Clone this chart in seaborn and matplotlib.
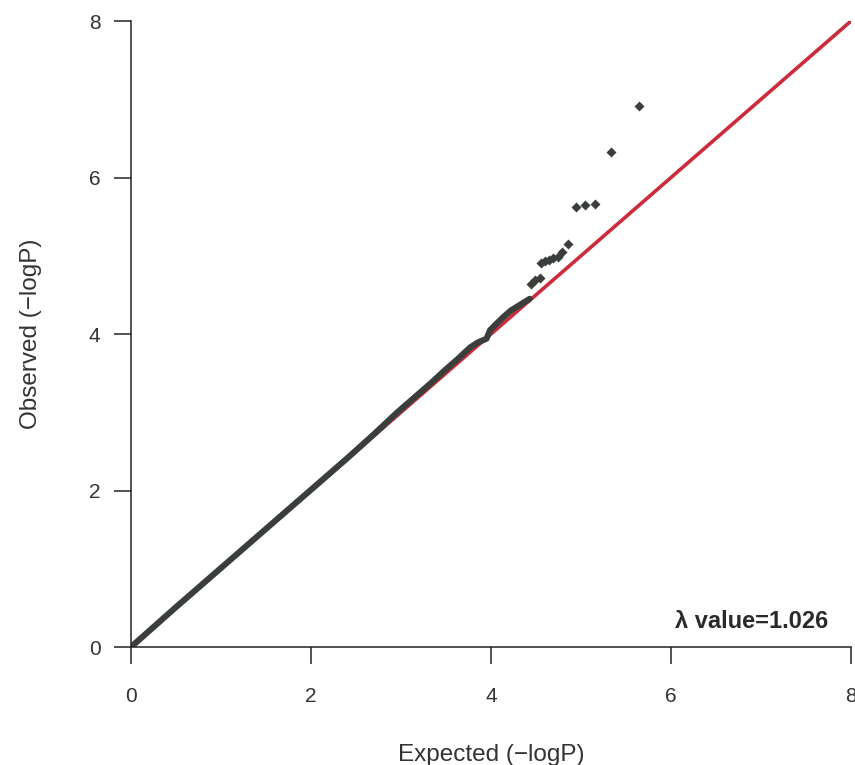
import matplotlib
matplotlib.use("Agg")
import matplotlib.pyplot as plt
import seaborn as sns
import pandas as pd

# QQ plot values (-log10 P)
dense_expected = [0.00, 0.50, 1.00, 1.50, 2.00, 2.40, 2.70, 2.95, 3.15, 3.32, 3.50, 3.62,
                  3.77, 3.85, 3.91, 3.95, 3.99, 4.05, 4.14, 4.22, 4.29, 4.36, 4.43]
dense_observed = [0.00, 0.51, 1.01, 1.51, 2.01, 2.41, 2.72, 2.99, 3.19, 3.36, 3.55, 3.67,
                  3.83, 3.89, 3.92, 3.94, 4.05, 4.12, 4.22, 4.30, 4.35, 4.40, 4.45]

tail_expected = [4.45, 4.49, 4.54, 4.56, 4.60, 4.64, 4.69, 4.74, 4.79, 4.86, 4.94, 5.04, 5.16, 5.33, 5.64]
tail_observed = [4.64, 4.69, 4.71, 4.91, 4.93, 4.95, 4.97, 4.98, 5.05, 5.15, 5.62, 5.65, 5.66, 6.32, 6.91]

ref_x = [0, 8]
ref_y = [0, 8]
ticks = [0, 2, 4, 6, 8]
lambda_label = "λ value=1.026"

sns.set_style("ticks")
plt.rcParams['font.family'] = ['Liberation Sans', 'DejaVu Sans']

dense = pd.DataFrame({"expected": dense_expected, "observed": dense_observed})
tail = pd.DataFrame({"expected": tail_expected, "observed": tail_observed})
ref = pd.DataFrame({"expected": ref_x, "observed": ref_y})

fig = plt.figure(figsize=(8.55, 7.65), dpi=100)
ax = fig.add_axes([0.1532, 0.1542, 0.8421, 0.8183])

point_col = "#3b3f3b"
sns.lineplot(data=ref, x="expected", y="observed", color="#cc2b3b", lw=2.6, ax=ax, zorder=1)
sns.lineplot(data=dense, x="expected", y="observed", color=point_col, lw=4.4, ax=ax,
             sort=False, estimator=None, zorder=2, solid_capstyle="round")
sns.scatterplot(data=tail, x="expected", y="observed", color=point_col, marker="D", s=26,
                linewidth=0, ax=ax, zorder=3)

ax.set_xlim(0, 8)
ax.set_ylim(0, 8)
ax.set_xticks(ticks)
ax.set_yticks(ticks)
ax.set_xticklabels([str(t) for t in ticks])
ax.set_yticklabels([str(t) for t in ticks])
sns.despine(ax=ax)
for s in ["left", "bottom"]:
    ax.spines[s].set_linewidth(1.1)
    ax.spines[s].set_color("#222222")

ax.tick_params(axis="both", direction="out", length=12, width=1.1, color="#222222",
               labelsize=15, labelcolor="#333333")
ax.tick_params(axis="x", pad=17)
ax.tick_params(axis="y", pad=10)

ax.set_xlabel("Expected (\u2212logP)", fontsize=17.5, color="#333333")
ax.set_ylabel("Observed (\u2212logP)", fontsize=17.5, color="#333333")
ax.xaxis.set_label_coords(0.5, -0.155)
ax.yaxis.set_label_coords(-0.124, 0.5)

ax.text(7.75, 0.33, lambda_label, ha="right", va="center", fontsize=17,
        fontweight="bold", color="#2a2a2a")

fig.savefig("out.png", dpi=100, facecolor="white")
